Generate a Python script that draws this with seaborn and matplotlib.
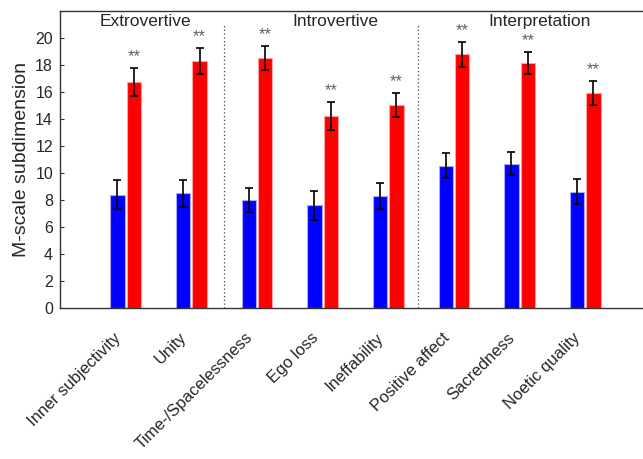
import pandas as pd
import matplotlib.pyplot as plt
import matplotlib.transforms as mtransforms
import seaborn as sns
import numpy as np

# M-scale subdimensions, two conditions
categories = ["Inner subjectivity", "Unity", "Time-/Spacelessness", "Ego loss",
              "Ineffability", "Positive affect", "Sacredness", "Noetic quality"]
blue_vals = [8.4, 8.5, 8.0, 7.6, 8.3, 10.55, 10.7, 8.6]
blue_err = [1.05, 1.0, 0.9, 1.05, 0.95, 0.95, 0.85, 0.92]
red_vals = [16.75, 18.3, 18.5, 14.25, 15.05, 18.8, 18.15, 15.95]
red_err = [1.05, 0.98, 0.9, 1.03, 0.9, 0.93, 0.84, 0.9]
groups = ["Extrovertive", "Introvertive", "Interpretation"]
group_centers = [0.3, 3.2, 6.3]
separators = [1.5, 4.45]

df = pd.DataFrame({
    "sub": categories * 2,
    "cond": ["A"] * 8 + ["B"] * 8,
    "val": blue_vals + red_vals,
})

sns.set_style("white")
plt.rcParams['font.family'] = ['Liberation Sans', 'DejaVu Sans']

fig = plt.figure(figsize=(6.43, 4.59), dpi=100)
ax = fig.add_axes([0.0933, 0.329, 0.919, 0.647])

sns.barplot(data=df, x="sub", y="val", hue="cond", palette=["#0000ff", "#ff0000"],
            saturation=1, width=0.5, gap=0.13, linewidth=0.8, legend=False, ax=ax)

# error bars + significance stars, placed on the drawn bars
bars = ax.patches[:16]
errs = blue_err + red_err
vals = blue_vals + red_vals
for i, p in enumerate(bars):
    p.set_edgecolor("#a8a8ff" if i < 8 else "#ffa0a0")
    xc = p.get_x() + p.get_width() / 2
    ax.errorbar(xc, vals[i], yerr=errs[i], color="black", capsize=3,
                elinewidth=1.2, capthick=1.2, fmt="none", zorder=5)
    if i >= 8:
        ax.text(xc, vals[i] + errs[i] + 0.5, "**", ha="center", va="baseline",
                fontsize=12, color="#606060")

for s in separators:
    ax.plot([s, s], [0, 21.1], ls=(0, (1, 2)), color="#444444", lw=0.9)

for g, c in zip(groups, group_centers):
    ax.text(c, 21.2, g, ha="center", va="center", fontsize=12.5)

ax.set_xlim(-1, 8)
ax.set_ylim(0, 22)
ax.set_yticks(np.arange(0, 21, 2))
ticks = np.arange(8) + 0.04
ax.set_xticks(ticks)
ax.set_xticklabels([])

# rotated category labels, nudged down-left along their direction
trans = mtransforms.blended_transform_factory(ax.transData, ax.transAxes)
trans = trans + mtransforms.ScaledTranslation(-15 / 100, -22 / 100, fig.dpi_scale_trans)
for t, lab in zip(ticks, categories):
    ax.text(t, 0, lab, transform=trans, rotation=45, ha="right", va="top",
            rotation_mode="anchor", fontsize=12)

ax.tick_params(axis="y", labelsize=11.5, direction="in", length=3, left=True,
               color="#333333", pad=5)
ax.tick_params(axis="x", direction="in", length=3, bottom=True, color="#333333")
ax.set_xlabel("")
ax.set_ylabel("M-scale subdimension", fontsize=14)

for side in ["left", "bottom", "top"]:
    ax.spines[side].set_color("#333333")
    ax.spines[side].set_linewidth(1.0)
ax.spines["right"].set_visible(False)

fig.savefig("out.png", dpi=100)
